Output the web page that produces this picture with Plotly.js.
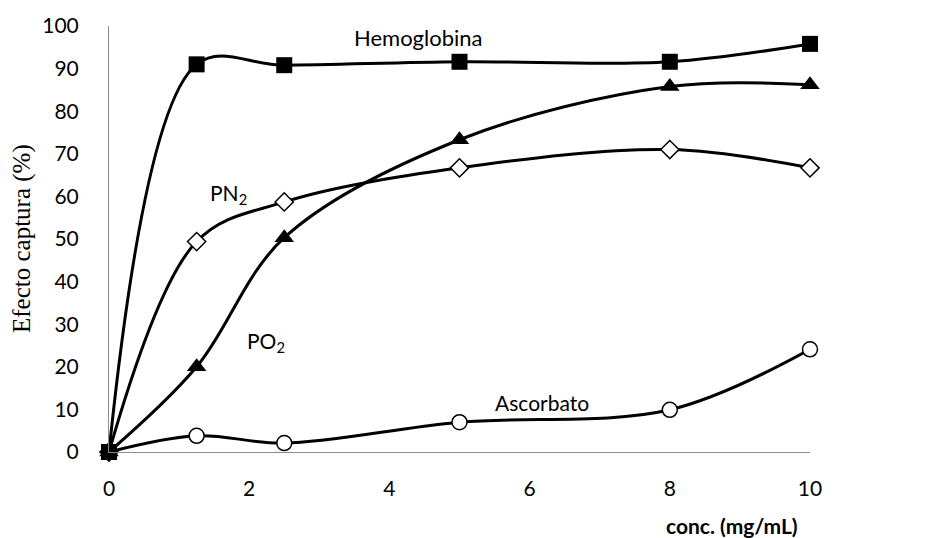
<!DOCTYPE html>
<html>
<head>
<meta charset="utf-8">
<script src="https://cdn.plot.ly/plotly-3.0.1.min.js"></script>
<style>html,body{margin:0;padding:0;background:#fff;}#chart{width:930px;height:538px;}</style>
</head>
<body>
<div id="chart"></div>
<script>
const conc = [0, 1.25, 2.5, 5, 8, 10];
const hemoglobina = [0, 91, 90.8, 91.6, 91.6, 95.8];
const po2 = [0, 20, 50.3, 73.3, 85.8, 86.2];
const pn2 = [0, 49.4, 58.7, 66.7, 71, 66.7];
const ascorbato = [0, 3.8, 2.1, 7, 9.9, 24.1];
const yTicks = [0, 10, 20, 30, 40, 50, 60, 70, 80, 90, 100];
const xTicks = [0, 2, 4, 6, 8, 10];

const lineStyle = {color: '#000', width: 3, shape: 'spline', smoothing: 1};
function series(name, y, marker) {
  return {x: conc, y: y, name: name, type: 'scatter', mode: 'lines+markers',
    line: lineStyle, marker: marker, cliponaxis: false, showlegend: false};
}
const traces = [
  series('Ascorbato', ascorbato, {symbol: 'circle', size: 15, color: '#fff', line: {color: '#000', width: 1.5}}),
  series('PN2', pn2, {symbol: 'diamond', size: 14, color: '#fff', line: {color: '#000', width: 1.5}}),
  series('PO2', po2, {symbol: 'triangle-up', size: 17, color: '#000', line: {color: '#000', width: 0}}),
  series('Hemoglobina', hemoglobina, {symbol: 'square', size: 16, color: '#000', line: {color: '#000', width: 0}})
];

const font = {family: 'Lato, "Open Sans", sans-serif', size: 21, color: '#000'};
const labelFont = {family: 'Lato, "Open Sans", sans-serif', size: 22, color: '#000'};
const layout = {
  width: 930, height: 538,
  margin: {l: 109, r: 120, t: 26, b: 86},
  paper_bgcolor: '#fff', plot_bgcolor: '#fff',
  font: font,
  xaxis: {range: [0, 10], tickvals: xTicks, ticktext: xTicks.map(String), showgrid: false, zeroline: false,
    showline: true, linecolor: '#8c8c8c', linewidth: 1, ticks: '', ticklabelstandoff: 18,
    tickfont: font},
  yaxis: {range: [0, 100], tickvals: yTicks, ticktext: yTicks.map(String), showgrid: false, zeroline: false,
    showline: true, linecolor: '#8c8c8c', linewidth: 1, ticks: '', ticklabelstandoff: 25,
    tickfont: font},
  annotations: [
    {text: 'Hemoglobina', x: 4.41, y: 97.4, xref: 'x', yref: 'y', showarrow: false, font: labelFont},
    {text: 'PN<sub>2</sub>', x: 1.71, y: 60.5, xref: 'x', yref: 'y', showarrow: false, font: font},
    {text: 'PO<sub>2</sub>', x: 2.24, y: 25.8, xref: 'x', yref: 'y', showarrow: false, font: font},
    {text: 'Ascorbato', x: 6.18, y: 11.7, xref: 'x', yref: 'y', showarrow: false, font: font},
    {text: '<b>conc. (mg/mL)</b>', x: 0.5, y: 0, xref: 'paper', yref: 'paper', showarrow: false,
      xanchor: 'center', yanchor: 'middle', font: font},
    {text: 'Efecto captura (%)', textangle: -90, x: 0, y: 0.5, xref: 'paper', yref: 'paper', showarrow: false,
      xanchor: 'center', yanchor: 'middle',
      font: {family: '"Liberation Serif", "Times New Roman", serif', size: 25, color: '#000'}}
  ]
};
// position paper-based annotations in pixels
const plotW = 930 - 109 - 120, plotH = 538 - 26 - 86;
layout.annotations[4].x = (732 - 109) / plotW;
layout.annotations[4].y = -(525 - 452) / plotH;
layout.annotations[5].x = (22 - 109) / plotW;
layout.annotations[5].y = (452 - 239) / plotH;
Plotly.newPlot('chart', traces, layout, {displayModeBar: false, staticPlot: true});
</script>
</body>
</html>
